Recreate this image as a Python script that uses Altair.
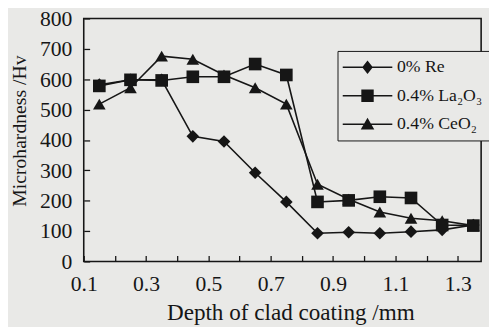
import altair as alt
import pandas as pd

depth = [0.15, 0.25, 0.35, 0.45, 0.55, 0.65, 0.75, 0.85, 0.95, 1.05, 1.15, 1.25, 1.35]
re0 = [582, 598, 598, 412, 395, 292, 196, 93, 96, 93, 98, 104, 120]
la2o3 = [578, 598, 596, 608, 608, 650, 614, 196, 201, 213, 209, 120, 118]
ceo2 = [518, 572, 676, 666, 614, 572, 518, 254, 205, 163, 142, 134, 118]
series = ["0% Re", "0.4% La₂O₃", "0.4% CeO₂"]
x_ticks = [0.1, 0.2, 0.3, 0.4, 0.5, 0.6, 0.7, 0.8, 0.9, 1.0, 1.1, 1.2, 1.3]
y_ticks = [0, 100, 200, 300, 400, 500, 600, 700, 800]

rows = []
for name, vals in [(series[0], re0), (series[2], ceo2), (series[1], la2o3)]:
    for d, v in zip(depth, vals):
        rows.append({"depth": d, "hv": v, "series": name})
df = pd.DataFrame(rows)

BG = "#e9e9e7"
INK = "#161616"
FONT = "Liberation Serif"

x = alt.X(
    "depth:Q",
    scale=alt.Scale(domain=[0.1, 1.375], nice=False, zero=False),
    axis=alt.Axis(
        values=x_ticks,
        labelExpr="round(datum.value*10) % 2 == 1 ? format(datum.value, '.1f') : ''",
        title="Depth of clad coating /mm",
        titleX=210, titleY=58, titleBaseline="middle", titleFontSize=23.5,
        offset=-6, labelPadding=13, labelFlush=False,
    ),
)
y = alt.Y(
    "hv:Q",
    scale=alt.Scale(domain=[0, 800], nice=False),
    axis=alt.Axis(
        values=y_ticks,
        title="Microhardness /Hv",
        titleX=-71, titleY=114, titleBaseline="middle", titleFontSize=20,
        offset=-6, labelPadding=12, labelFlush=False,
    ),
)

legend_paths = [
    "M-4.2,-0.13H4.2V0.13H-4.2ZM0,-1.15L0.9,0L0,1.15L-0.9,0Z",
    "M-4.2,-0.13H4.2V0.13H-4.2ZM-1.05,-1.05H1.05V1.05H-1.05Z",
    "M-4.2,-0.13H4.2V0.13H-4.2ZM0,-1.1L1.15,0.9H-1.15Z",
]

lines = alt.Chart(df).mark_line(color=INK, strokeWidth=1.6).encode(
    x=x, y=y, detail="series:N"
)
points = alt.Chart(df).mark_point(filled=True, color=INK, size=165, opacity=1).encode(
    x=x, y=y,
    shape=alt.Shape("series:N", scale=alt.Scale(domain=series, range=["diamond", "square", "triangle-up"]), legend=None),
)
legend_layer = alt.Chart(df).transform_filter("false").mark_point(
    filled=True, color=INK, size=144, opacity=1
).encode(
    x=x, y=y,
    shape=alt.Shape(
        "series:N",
        scale=alt.Scale(domain=series, range=legend_paths),
        legend=alt.Legend(
            title=None, orient="none", legendX=258, legendY=33,
            strokeColor=INK, fillColor=BG, padding=7.5,
            symbolSize=144, symbolFillColor=INK,
            symbolOffset=14, labelOffset=21,
            labelFont=FONT, labelFontSize=18, labelColor=INK,
            rowPadding=9,
        ),
    ),
)

chart = alt.layer(lines, points, legend_layer).resolve_scale(shape="independent").properties(
    width=404, height=247,
    background=BG,
    autosize=alt.AutoSizeParams(type="none"),
    padding={"left": 77, "top": 8, "right": 8, "bottom": 64},
).configure_view(
    stroke=INK, strokeWidth=1.6, fill=BG
).configure_axis(
    domain=False,
    ticks=True, tickColor=INK, tickWidth=1.3, tickSize=6,
    grid=False,
    labelFont=FONT, labelFontSize=22, labelColor=INK,
    titleFont=FONT, titleFontWeight="normal", titleColor=INK,
)

chart.save("out.html", embed_options={"renderer": "svg", "actions": False})
